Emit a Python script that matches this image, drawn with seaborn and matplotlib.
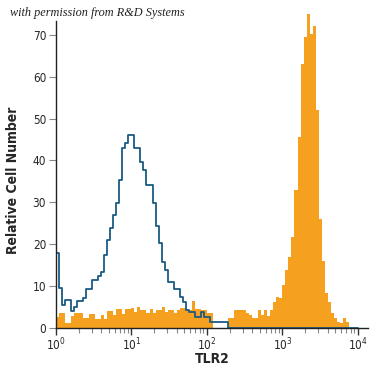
import numpy as np
import pandas as pd
import seaborn as sns
import matplotlib.pyplot as plt
from matplotlib.ticker import LogLocator

# bins: 25 per decade, from 10^0 upward (log10 units)
bins_per_decade = 25
n_bins = 100

# isotype control (blue outline), heights per bin starting at 10^0
control = [18, 9.5, 5.5, 6.7, 6.7, 4, 5.1, 6.4, 6.4, 7.1,
           9.2, 9.2, 11.5, 11.5, 12.3, 13.4, 17.4, 21, 23.9, 27,
           29.8, 35.3, 42.9, 44.1, 46.1, 46.1, 42.9, 42.9, 39.7, 37.7,
           34.1, 34.1, 29.8, 24.3, 20.2, 15.8, 13.8, 11, 11, 9.2,
           9.2, 7.5, 6.3, 4.3, 3.9, 3.9, 2.7, 2.7, 3.9, 2.7,
           2.7, 1.5, 1.5, 1.5, 1.5, 1.5, 1.5]

# TLR2 stained cells (orange fill)
tlr2 = [2.7, 3.7, 3.7, 1.1, 1.1, 2.9, 3.7, 3.7, 3.7, 2.5,
        2.5, 3.3, 3.3, 2.2, 2.2, 3.0, 2.2, 4.0, 4.0, 3.0,
        4.5, 4.5, 3.3, 4.6, 4.6, 4.7, 3.9, 4.9, 4.3, 4.3,
        3.5, 4.5, 3.5, 4.3, 4.3, 4.9, 3.9, 4.3, 4.3, 3.5,
        4.3, 4.7, 4.7, 4.3, 4.3, 6.5, 4.5, 4.5, 4.3, 4.3,
        3.5, 3.5, 0, 0, 0, 0, 0, 2.3, 2.3, 4.3,
        4.3, 4.3, 4.3, 3.7, 3.1, 2.3, 2.3, 4.3, 3.1, 4.3,
        2.8, 4.3, 6.3, 7.5, 7.1, 10.3, 13.8, 17, 21.8, 32.9,
        45.7, 63, 69.5, 75, 70.3, 72, 52, 26, 16, 8.3,
        6.3, 3.5, 2.3, 1.5, 1.2, 2.3, 1.5]

edges = (np.arange(n_bins + 1) / bins_per_decade).tolist()


def to_frame(heights):
    idx = np.arange(len(heights))
    centers = 10 ** ((idx + 0.5) / bins_per_decade)
    return pd.DataFrame({'x': centers, 'w': heights})


orange = '#f6a020'
blue = '#1b5a84'

sns.set_style('ticks')
plt.rcParams['font.family'] = ['DejaVu Sans']
plt.rcParams['font.stretch'] = 'condensed'

fig = plt.figure(figsize=(3.75, 3.75), dpi=100)
ax = fig.add_axes([0.149, 0.1253, 0.832, 0.849])

sns.histplot(data=to_frame(tlr2), x='x', weights='w', bins=edges, log_scale=True,
             element='step', fill=True, color=orange, alpha=1, linewidth=0, ax=ax)
sns.histplot(data=to_frame(control), x='x', weights='w', bins=edges, log_scale=True,
             element='step', fill=False, color=blue, linewidth=1.3, ax=ax)

ax.set_xlim(1, 10 ** 4.132)
ax.set_ylim(0, 76)
ax.set_yticks(range(0, 80, 10))
ax.spines['left'].set_bounds(0, 73.2)
sns.despine(ax=ax)

ax.xaxis.set_major_locator(LogLocator(base=10, numticks=10))
ax.xaxis.set_minor_locator(LogLocator(base=10, subs=np.arange(2, 10), numticks=100))
ax.tick_params(axis='x', which='major', length=5, width=1, color='#333333',
               labelsize=8.5, pad=1)
ax.tick_params(axis='x', which='minor', length=3.5, width=0.8, color='#888888')
ax.tick_params(axis='y', length=5, width=0.8, color='#888888', labelsize=8.5, pad=2)
for s in ['left', 'bottom']:
    ax.spines[s].set_color('#222222')
    ax.spines[s].set_linewidth(1)

ax.set_xlabel('TLR2', fontsize=10, fontweight='bold', labelpad=-1)
ax.set_ylabel('Relative Cell Number', fontsize=10, fontweight='bold')
ax.yaxis.set_label_coords(-0.115, 0.465)

fig.text(0.027, 0.958, 'with permission from R&D Systems', fontsize=8.8,
         family='Liberation Serif', style='italic', color='#222222')

plt.savefig('out.png', dpi=100)
